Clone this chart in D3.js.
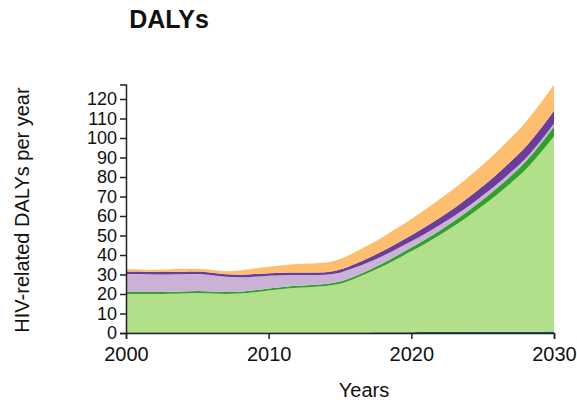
<!DOCTYPE html>
<html>
<head>
<meta charset="utf-8">
<script src="https://cdn.jsdelivr.net/npm/d3@7/dist/d3.min.js"></script>
<style>
  html, body { margin: 0; padding: 0; background: #fff; }
  svg { display: block; font-family: "Liberation Sans", Arial, Helvetica, sans-serif; }
</style>
</head>
<body>
<svg id="chart" width="577" height="405"></svg>
<script>
const years = d3.range(2000, 2031);

const blueLine = [0.2,0.2,0.2,0.2,0.2,0.2,0.2,0.2,0.2,0.2,0.2,0.2,0.2,0.2,0.2,0.25,0.3,0.3,0.35,0.4,0.4,0.45,0.5,0.5,0.55,0.6,0.6,0.65,0.7,0.7,0.75];
const lightGreen = [19.8,19.8,19.8,19.9,20.1,20.3,20.1,19.8,20.0,20.7,21.6,22.4,23.0,23.4,23.9,25.0,27.5,30.6,33.9,37.6,41.5,45.5,49.8,54.4,59.3,64.6,70.3,76.4,83.0,91.2,100.2];
const darkGreen = [1.0,1.0,1.0,1.0,1.0,1.0,1.0,1.0,1.0,1.0,1.0,1.0,1.0,1.0,1.0,1.1,1.2,1.3,1.5,1.7,1.9,2.1,2.3,2.5,2.8,3.1,3.4,3.7,4.1,4.5,5.0];
const lightPurple = [9.3,9.2,9.0,8.9,8.8,8.7,8.3,7.8,7.4,7.0,6.5,6.0,5.5,5.1,4.8,4.6,4.4,4.1,3.8,3.5,3.2,3.0,2.8,2.6,2.4,2.2,2.0,1.9,1.7,1.6,1.5];
const darkPurple = [1.3,1.3,1.3,1.3,1.3,1.3,1.3,1.3,1.3,1.3,1.3,1.3,1.3,1.3,1.3,1.6,1.9,2.2,2.5,2.8,3.1,3.4,3.7,4.0,4.4,4.7,5.1,5.5,5.9,6.2,6.5];
const orange = [1.2,1.1,1.2,1.3,1.5,1.4,1.4,1.6,2.2,2.9,3.4,3.9,4.4,4.7,4.9,5.4,6.0,6.6,7.2,7.8,8.4,9.0,9.6,10.1,10.6,11.1,11.6,12.1,12.6,13.1,13.5];

const seriesNames = ["blueLine","lightGreen","darkGreen","lightPurple","darkPurple","orange"];
const seriesValues = [blueLine, lightGreen, darkGreen, lightPurple, darkPurple, orange];
const seriesColors = ["#1f5f8b","#b2df8a","#33a02c","#cab2d6","#6a3d9a","#fdbf6f"];

const xTicks = [2000, 2010, 2020, 2030];
const yTicks = d3.range(0, 121, 10);

const titleText = "DALYs";
const xLabel = "Years";
const yLabel = "HIV-related DALYs per year";

const table = years.map((yr, i) => {
  const row = { year: yr };
  seriesNames.forEach((n, k) => row[n] = seriesValues[k][i]);
  return row;
});

const svg = d3.select("#chart");
const plot = { left: 126, right: 554, bottom: 333 };
const pxPerUnit = 1.95;

const stack = d3.stack().keys(seriesNames);
const layers = stack(table);
const maxTotal = d3.max(layers[layers.length - 1], d => d[1]);

const x = d3.scaleLinear().domain([2000, 2030]).range([plot.left, plot.right]);
const y = d3.scaleLinear().domain([0, maxTotal]).range([plot.bottom, plot.bottom - maxTotal * pxPerUnit]);

const area = d3.area()
  .x(d => x(d.data.year))
  .y0(d => y(d[0]))
  .y1(d => y(d[1]))
  .curve(d3.curveMonotoneX);

svg.append("g").selectAll("path")
  .data(layers)
  .join("path")
  .attr("d", area)
  .attr("fill", (d, i) => seriesColors[i]);

const xAxis = svg.append("g")
  .attr("transform", `translate(0,${plot.bottom})`)
  .call(d3.axisBottom(x).tickValues(xTicks).tickFormat(d3.format("d")).tickPadding(8));
const yAxis = svg.append("g")
  .attr("transform", `translate(${plot.left},0)`)
  .call(d3.axisLeft(y).tickValues(yTicks).tickFormat(d3.format("d")));

xAxis.attr("font-size", 20);
yAxis.attr("font-size", 18);
[xAxis, yAxis].forEach(g => {
  g.attr("font-family", "'Liberation Sans', Arial, sans-serif");
  g.selectAll("path, line").attr("stroke", "#222").attr("stroke-width", 1.5);
  g.selectAll("text").attr("fill", "#111");
});

svg.append("text")
  .attr("x", 169).attr("y", 28)
  .attr("text-anchor", "middle")
  .attr("font-size", 25).attr("font-weight", "bold").attr("fill", "#111")
  .text(titleText);

svg.append("text")
  .attr("x", 364).attr("y", 397)
  .attr("text-anchor", "middle")
  .attr("font-size", 20).attr("fill", "#111")
  .text(xLabel);

svg.append("text")
  .attr("transform", `translate(29,210) rotate(-90)`)
  .attr("text-anchor", "middle")
  .attr("font-size", 20).attr("fill", "#111")
  .text(yLabel);
</script>
</body>
</html>
